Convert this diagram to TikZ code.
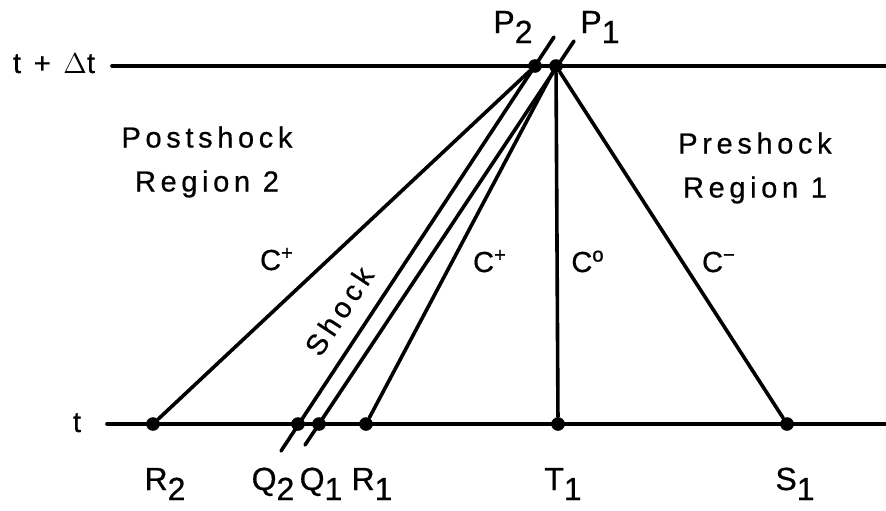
\documentclass[tikz,border=0pt]{standalone}
\usepackage{fontspec}
\setmainfont{Liberation Sans}[LetterSpace=16,FakeBold=0.6]
\usetikzlibrary{positioning}
\tikzset{dot/.style={circle,fill=black,minimum size=6.8pt,inner sep=0pt},
    char/.style={draw,line width=1.8pt,line cap=round},
    lbl/.style={font=\fontsize{14.5}{22}\selectfont,inner sep=0pt},
    ptlbl/.style={font=\fontsize{16}{20}\selectfont,inner sep=0pt,anchor=base},
    region/.style={lbl,align=center}}
\newcommand{\lowd}[2]{#1\raisebox{-5pt}{#2}}

\begin{document}
\begin{tikzpicture}[x=0.5pt,y=-0.5pt]
    \useasboundingbox (0,0) rectangle (886,510);
    % the two time levels
    \coordinate (topL) at (112,66); \coordinate (topR) at (886,66);
    \coordinate (botL) at (107,424); \coordinate (botR) at (886,424);
    \draw[char] (topL) -- (topR);
    \draw[char] (botL) -- (botR);
    \node[lbl,anchor=base] (tdt) at (54,73) {t + $\Delta$t};
    \node[lbl,anchor=base] (t) at (77,432) {t};

    \foreach \pos/\name in {{(535,66)/P2}, {(556,66)/P1}, {(153,424)/R2}, {(298,424)/Q2}, {(319,424)/Q1}, {(366,424)/R1}, {(558,424)/T1}, {(787,424)/S1}}
        \node[dot] (\name) at \pos {};

    % shock path, drawn a bit past both levels
    \coordinate (Q2e) at (281,451); \coordinate (P2e) at (554,37);
    \coordinate (Q1e) at (305,445); \coordinate (P1e) at (574,41);
    \draw[char] (Q2e) -- (P2e);
    \draw[char] (Q1e) -- (P1e);

    \foreach \source/\dest in {R2/P2, R1/P1, T1/P1, S1/P1}
        \path[char] (\source) -- (\dest);

    \foreach \pos/\ltr/\ix in {{(165,490)/R/2}, {(273,490)/Q/2}, {(321,490)/Q/1}, {(372,490)/R/1}, {(563,490)/T/1}, {(795,490)/S/1}, {(513,33)/P/2}, {(600,33)/P/1}}
        \node[ptlbl] at \pos {\lowd{\ltr}{\ix}};

    \node[region] (post) at (207,162) {Postshock\\Region 2};
    \node[region] (pre) at (755,168) {Preshock\\Region 1};

    \node[lbl,anchor=base] (cpl) at (277,270) {C\textsuperscript{+}};
    \node[lbl,anchor=base] (cpr) at (490,272) {C\textsuperscript{+}};
    \node[lbl,anchor=base] (czr) at (588,272) {C\textsuperscript{o}};
    \node[lbl,anchor=base] (cmi) at (719,272) {C\textsuperscript{−}};
    \node[lbl,rotate=56.5] (shk) at (339,311) {Shock};
\end{tikzpicture}
\end{document}
